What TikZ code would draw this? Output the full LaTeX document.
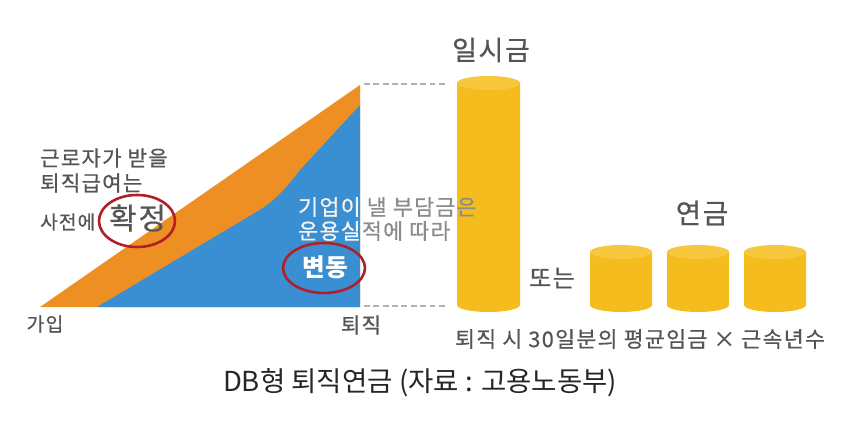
\documentclass[tikz,border=0pt]{standalone}
\usepackage{fontspec}
\setmainfont{Noto Sans CJK KR}
\newfontfamily\labelfont{Noto Sans CJK KR}[LetterSpace=6, RawFeature={embolden=0.6}]
\usetikzlibrary{positioning}
\definecolor{payorange}{HTML}{EE8F24}
\definecolor{payblue}{HTML}{3A8ED2}
\definecolor{coinbody}{HTML}{F4BC1C}
\definecolor{coinlid}{HTML}{F7C83E}
\definecolor{labelgray}{HTML}{555555}
\definecolor{firmgray}{HTML}{8C8C8C}
\definecolor{ringred}{HTML}{B01E28}

\begin{document}
\begin{tikzpicture}[
  x=0.03cm, y=-0.03cm,
  lbl/.style={text=labelgray, inner sep=0pt},
  firmtxt/.style={text=firmgray, inner sep=0pt, anchor=west, font=\labelfont\fontsize{18.5}{22}\selectfont},
  ring/.style={draw=ringred, line width=2.2pt},
  coin/.style={fill=coinbody},
  coinlid/.style={fill=coinlid},
  guide/.style={draw=gray!60, line width=1pt, dash pattern=on 5pt off 3pt}
]
\useasboundingbox (0,0) rectangle (855,424);

\fill[payorange] (40,307) -- (360,85) -- (360,307) -- cycle;
\fill[payblue] (97,307) -- (258,211) .. controls (272,203) and (285,190) .. (300,170) -- (360,105) -- (360,307) -- cycle;

\coordinate (peak) at (364,84);
\coordinate (floor) at (364,306);
\coordinate (peakend) at (448,84);
\coordinate (floorend) at (448,306);
\draw[guide] (peak) -- (peakend);
\draw[guide] (floor) -- (floorend);

\fill[coin] (457,83) -- (457,305) arc[start angle=180, end angle=360, x radius=0.945cm, y radius=0.21cm] -- (520,83) -- cycle;
\fill[coinlid] (488.5,83) ellipse [x radius=0.945cm, y radius=0.21cm];
\foreach \cx in {621,698,775} {
  \fill[coin] (\cx-31,252) -- (\cx-31,305) arc[start angle=180, end angle=360, x radius=0.93cm, y radius=0.21cm] -- (\cx+31,252) -- cycle;
  \fill[coinlid] (\cx,252) ellipse [x radius=0.93cm, y radius=0.21cm];
}

\node[lbl, anchor=west, font=\labelfont\fontsize{18}{21}\selectfont] (worker1) at (40,158) {근로자가 받을};
\node[lbl, anchor=west, font=\labelfont\fontsize{18}{21}\selectfont] (worker2) at (40,183) {퇴직급여는};
\node[lbl, anchor=west, font=\labelfont\fontsize{16.3}{19}\selectfont] (inadv) at (40,222) {사전에};
\node[lbl, anchor=west, font=\labelfont\fontsize{25.5}{29}\selectfont] (fixed) at (109,218) {확정};
\draw[ring] (137,221) ellipse [x radius=1.14cm, y radius=0.78cm];

\node[firmtxt] (firm1) at (298,207) {기업이 낼 부담금은};
\node[firmtxt] (firm2) at (298,231) {운용실적에 따라};
\begin{scope}
  \clip (97,307) -- (258,211) .. controls (272,203) and (285,190) .. (300,170) -- (360,105) -- (360,307) -- cycle;
  \node[firmtxt, text=white!92!payblue] (firm1w) at (298,207) {기업이 낼 부담금은};
  \node[firmtxt, text=white!92!payblue] (firm2w) at (298,231) {운용실적에 따라};
\end{scope}
\node[inner sep=0pt, text=white, font=\bfseries\fontsize{21}{25}\selectfont] (vary) at (325,267) {변동};
\draw[ring] (324,268) ellipse [x radius=1.23cm, y radius=0.75cm];

\node[lbl, font=\labelfont\fontsize{16.5}{19}\selectfont] (join) at (45,324) {가입};
\node[lbl, font=\labelfont\fontsize{18}{21}\selectfont] (retire) at (361,325) {퇴직};

\node[lbl, font=\labelfont\fontsize{23}{27}\selectfont] (lump) at (491,50) {일시금};
\node[lbl, font=\labelfont\fontsize{23.5}{27}\selectfont] (annuity) at (702,213) {연금};
\node[lbl, font=\labelfont\fontsize{20.5}{24}\selectfont] (orword) at (552,278) {또는};
\node[lbl, font=\labelfont\fontsize{18.5}{22}\selectfont] (formula) at (640,339) {퇴직 시 30일분의 평균임금 × 근속년수};

\node[inner sep=0pt, text=black!85, font=\fontsize{23.5}{27}\selectfont] (caption) at (420,383) {DB형 퇴직연금 (자료 : 고용노동부)};
\end{tikzpicture}
\end{document}
